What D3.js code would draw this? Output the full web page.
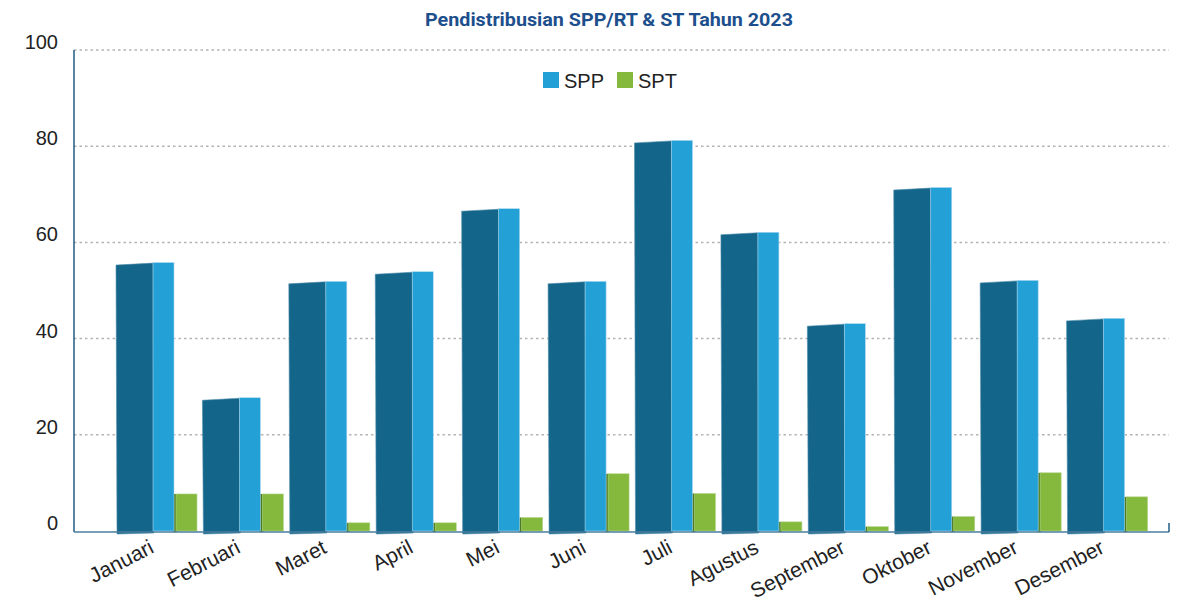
<!DOCTYPE html>
<html>
<head>
<meta charset="utf-8">
<script src="https://cdn.jsdelivr.net/npm/d3@7"></script>
<style>
  body { margin: 0; background: #fff; }
  svg { display: block; font-family: "Liberation Sans", Arial, sans-serif; }
</style>
</head>
<body>
<div id="chart"></div>
<script>
(function(){
  var months = ["Januari", "Februari", "Maret", "April", "Mei", "Juni", "Juli",
                "Agustus", "September", "Oktober", "November", "Desember"];
  var spp = [55.7, 27.6, 51.8, 53.8, 66.9, 51.8, 81.1, 62.0, 43.0, 71.3, 52.0, 44.1];
  var spt = [7.7, 7.7, 1.7, 1.7, 2.8, 11.9, 7.8, 1.9, 0.9, 3.0, 12.1, 7.1];
  var yTicks = [0, 20, 40, 60, 80, 100];

  var width = 1179, height = 599;
  var left = 74, right = 1169, top = 50, bottom = 531;

  var svg = d3.select("#chart").append("svg")
    .attr("width", width)
    .attr("height", height);

  var y = d3.scaleLinear().domain([0, 100]).range([bottom, top]);
  var x = d3.scaleBand().domain(months).range([113, 1150]).padding(0);

  // gridlines
  svg.append("g")
    .selectAll("line")
    .data(yTicks.filter(function(d){ return d > 0; }))
    .enter().append("line")
      .attr("x1", left).attr("x2", right)
      .attr("y1", function(d){ return y(d); })
      .attr("y2", function(d){ return y(d); })
      .attr("stroke", "#b3b3b3")
      .attr("stroke-width", 1.5)
      .style("stroke-dasharray", "2.5,3");

  // y labels
  svg.append("g")
    .selectAll("text")
    .data(yTicks)
    .enter().append("text")
      .attr("x", 58)
      .attr("y", function(d){ return y(d) - 1; })
      .attr("text-anchor", "end")
      .style("font-size", "20px")
      .style("fill", "#222")
      .text(function(d){ return d; });

  var bw = x.bandwidth();
  var g = svg.append("g");

  // SPT bars (green) with darker left edge
  var sptG = g.selectAll(".spt")
    .data(months)
    .enter().append("g");
  sptG.append("rect")
    .attr("x", function(d){ return x(d) + 60; })
    .attr("width", 4)
    .attr("y", function(d, i){ return y(spt[i]); })
    .attr("height", function(d, i){ return y(0) - y(spt[i]) + 1; })
    .style("fill", "#4d7a1f");
  sptG.append("rect")
    .attr("x", function(d){ return x(d) + 63; })
    .attr("width", 21)
    .attr("y", function(d, i){ return y(spt[i]); })
    .attr("height", function(d, i){ return y(0) - y(spt[i]); })
    .style("fill", "#85b93e")
    .attr("stroke", "#b3d68a")
    .attr("stroke-width", 0.6);

  // SPP 3D bars: dark front face + light side face
  var sppG = g.selectAll(".spp")
    .data(months)
    .enter().append("g");
  sppG.append("path")
    .attr("d", function(d, i){
      var x0 = x(d) + 3, x1 = x(d) + 40, yt = y(spp[i]);
      return "M" + x0 + "," + (yt + 2) + "L" + x1 + "," + yt +
             "L" + (x1 + 1) + "," + (bottom + 2) + "L" + (x0 + 1) + "," + (bottom + 3) + "Z";
    })
    .style("fill", "#136689")
    .attr("stroke", "#4f8cab")
    .attr("stroke-width", 0.6);
  sppG.append("rect")
    .attr("x", function(d){ return x(d) + 40; })
    .attr("width", 21)
    .attr("y", function(d, i){ return y(spp[i]) - 0.5; })
    .attr("height", function(d, i){ return y(0) - y(spp[i]) + 0.5; })
    .style("fill", "#23a0d6")
    .attr("stroke", "#a9d8ef")
    .attr("stroke-width", 0.6);

  // axes
  svg.append("line")
    .attr("x1", left).attr("x2", left)
    .attr("y1", top).attr("y2", bottom + 1)
    .attr("stroke", "#1f5e85").attr("stroke-width", 1.5);
  svg.append("line")
    .attr("x1", left).attr("x2", right)
    .attr("y1", bottom + 1).attr("y2", bottom + 1)
    .attr("stroke", "#4b7d9e").attr("stroke-width", 1.5);
  svg.append("line")
    .attr("x1", right).attr("x2", right)
    .attr("y1", bottom - 8).attr("y2", bottom + 1)
    .attr("stroke", "#1f5e85").attr("stroke-width", 1.5);

  // x labels
  svg.append("g")
    .selectAll("text")
    .data(months)
    .enter().append("text")
      .attr("text-anchor", "end")
      .attr("transform", function(d){
        return "translate(" + (x(d) + bw / 2 - 1) + "," + 552 + ") rotate(-27)";
      })
      .style("font-size", "21px")
      .style("fill", "#222")
      .text(function(d){ return d; });

  // title
  svg.append("text")
    .attr("x", 425)
    .attr("y", 26)
    .attr("textLength", 368)
    .attr("lengthAdjust", "spacingAndGlyphs")
    .style("font-family", "Roboto, sans-serif")
    .style("font-weight", "bold")
    .style("font-size", "18px")
    .style("fill", "#1d4f8d")
    .text("Pendistribusian SPP/RT & ST Tahun 2023");

  // legend
  var legend = [{name: "SPP", color: "#23a0d6", x: 543}, {name: "SPT", color: "#85b93e", x: 617}];
  var lg = svg.append("g").selectAll("g").data(legend).enter().append("g");
  lg.append("rect")
    .attr("x", function(d){ return d.x; })
    .attr("y", 72)
    .attr("width", 16).attr("height", 16)
    .style("fill", function(d){ return d.color; });
  lg.append("text")
    .attr("x", function(d){ return d.x + 21; })
    .attr("y", 88)
    .style("font-size", "20px")
    .style("fill", "#222")
    .text(function(d){ return d.name; });
})();
</script>
</body>
</html>
